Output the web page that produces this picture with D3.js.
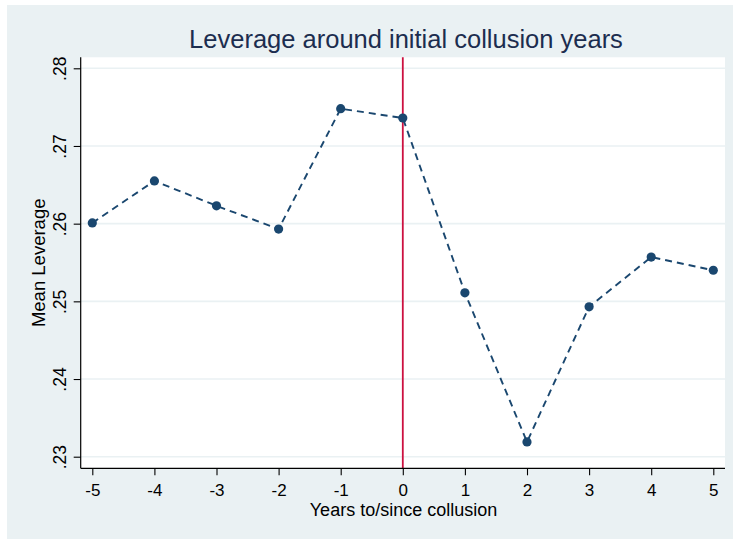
<!DOCTYPE html>
<html>
<head>
<meta charset="utf-8">
<script src="https://cdn.jsdelivr.net/npm/d3@7"></script>
<style>
  html, body { margin: 0; padding: 0; background: #ffffff; }
  svg { display: block; }
  text { font-family: "Liberation Sans", Arial, sans-serif; }
</style>
</head>
<body>
<svg id="chart" width="733" height="539"></svg>
<script>
const years = [-5, -4, -3, -2, -1, 0, 1, 2, 3, 4, 5];
const meanLeverage = [0.2601, 0.2655, 0.2623, 0.2593, 0.2748, 0.2736, 0.2511, 0.2319, 0.2493, 0.2557, 0.2540];
const yTicks = [0.23, 0.24, 0.25, 0.26, 0.27, 0.28];
const yTickLabels = [".23", ".24", ".25", ".26", ".27", ".28"];
const xTicks = [-5, -4, -3, -2, -1, 0, 1, 2, 3, 4, 5];
const xTickLabels = ["-5", "-4", "-3", "-2", "-1", "0", "1", "2", "3", "4", "5"];
const eventYear = 0;
const titleText = "Leverage around initial collusion years";
const xTitle = "Years to/since collusion";
const yTitle = "Mean Leverage";

const svg = d3.select("#chart");
const W = 733, H = 539;
const plot = { left: 80.7, right: 725, top: 57.3, bottom: 468.3 };

// outer graph region
svg.append("rect").attr("x", 7).attr("y", 5).attr("width", W - 7).attr("height", H - 5)
  .attr("fill", "#eaf1f3");
// plot region
svg.append("rect").attr("x", plot.left).attr("y", plot.top)
  .attr("width", plot.right - plot.left).attr("height", plot.bottom - plot.top)
  .attr("fill", "#ffffff");

const x = d3.scaleLinear().domain([-5, 5]).range([92.3, 713.3]);
const y = d3.scaleLinear().domain([0.23, 0.28]).range([456.7, 68.3]);

// gridlines
svg.append("g").selectAll("line").data(yTicks).join("line")
  .attr("x1", plot.left).attr("x2", plot.right)
  .attr("y1", d => y(d)).attr("y2", d => y(d))
  .attr("stroke", "#eaf1f3").attr("stroke-width", 1.6);

// event line
svg.append("line")
  .attr("x1", x(eventYear)).attr("x2", x(eventYear))
  .attr("y1", plot.top).attr("y2", plot.bottom)
  .attr("stroke", "#cc1140").attr("stroke-width", 1.8);

// data line
const data = years.map((yr, i) => ({ yr, v: meanLeverage[i] }));
svg.append("path").datum(data)
  .attr("d", d3.line().x(d => x(d.yr)).y(d => y(d.v)))
  .attr("fill", "none").attr("stroke", "#1a476f").attr("stroke-width", 1.9)
  .attr("stroke-dasharray", "7,5");
svg.append("g").selectAll("circle").data(data).join("circle")
  .attr("cx", d => x(d.yr)).attr("cy", d => y(d.v)).attr("r", 4.6)
  .attr("fill", "#1a476f");

// y axis
const yAxis = d3.axisLeft(y).tickValues(yTicks).tickSize(7)
  .tickFormat((d, i) => yTickLabels[i]);
const gy = svg.append("g").attr("transform", `translate(${plot.left},0)`).call(yAxis);
gy.select(".domain").attr("d", `M0,${plot.top}V${plot.bottom}`).attr("stroke", "#000").attr("stroke-width", 1.2);
gy.selectAll(".tick line").attr("stroke", "#000").attr("stroke-width", 1.1);
gy.selectAll(".tick text")
  .attr("x", null).attr("dy", null)
  .attr("transform", "translate(-15,0) rotate(-90)")
  .attr("text-anchor", "middle")
  .attr("fill", "#000")
  .style("font-size", "17.5px");

// x axis
const xAxis = d3.axisBottom(x).tickValues(xTicks).tickSize(7)
  .tickFormat((d, i) => xTickLabels[i]);
const gx = svg.append("g").attr("transform", `translate(0,${plot.bottom})`).call(xAxis);
gx.select(".domain").attr("d", `M${plot.left},0H${plot.right}`).attr("stroke", "#000").attr("stroke-width", 1.2);
gx.selectAll(".tick line").attr("stroke", "#000").attr("stroke-width", 1.1);
gx.selectAll(".tick text")
  .attr("y", 28).attr("dy", null)
  .attr("fill", "#000")
  .style("font-size", "17px");

// titles
svg.append("text").attr("x", 406).attr("y", 47.5).attr("text-anchor", "middle")
  .attr("fill", "#1c2d4f").style("font-size", "25.5px").text(titleText);
svg.append("text").attr("x", 403.5).attr("y", 515.5).attr("text-anchor", "middle")
  .attr("fill", "#000").style("font-size", "18px").text(xTitle);
svg.append("text").attr("transform", `translate(44.5,${(plot.top + plot.bottom) / 2}) rotate(-90)`)
  .attr("text-anchor", "middle").attr("fill", "#000").style("font-size", "18.5px").text(yTitle);
</script>
</body>
</html>
